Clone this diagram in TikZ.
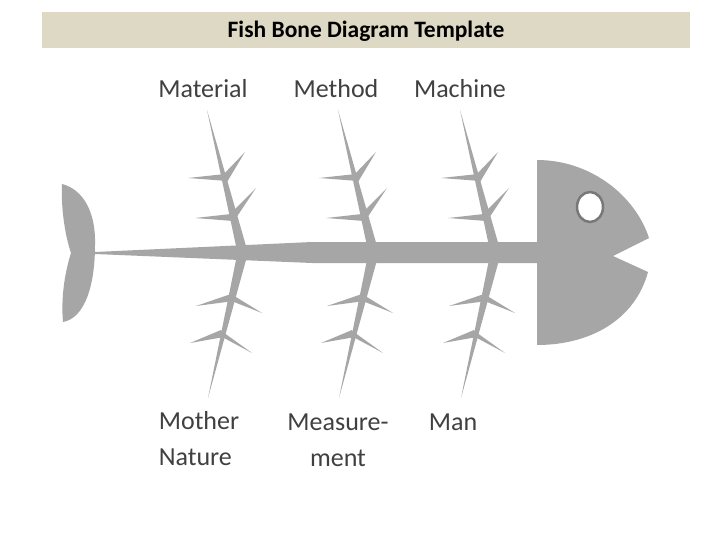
\documentclass[tikz,border=0pt]{standalone}
\usepackage{fontspec}
\setmainfont{Carlito}
\definecolor{fishgray}{RGB}{166,166,166}
\definecolor{titlebg}{RGB}{221,217,196}
\definecolor{labelc}{RGB}{64,64,64}
\definecolor{eyering}{RGB}{120,120,120}
\tikzset{
  bonefill/.style={fill=fishgray,draw=none},
  lbl/.style={font=\fontsize{26}{36}\selectfont,text=labelc,align=center,inner sep=0pt},
}
\newcommand{\fishrib}[1]{%
\begin{scope}[xshift=#1]
  \fill[bonefill] (207,110) -- (236,246) -- (246,246) -- cycle;
  \fill[bonefill] (208,398) -- (236,260) -- (246,260) -- cycle;
  \fill[bonefill] (188,178) -- (225,174) -- (227,181) -- cycle;
  \fill[bonefill] (245,152) -- (222,176) -- (227,182) -- cycle;
  \fill[bonefill] (195,218) -- (231,214) -- (233,221) -- cycle;
  \fill[bonefill] (256,188) -- (229,215) -- (234,221) -- cycle;
  \fill[bonefill] (196,306) -- (231,294) -- (234,301) -- cycle;
  \fill[bonefill] (262,313) -- (231,294) -- (234,302) -- cycle;
  \fill[bonefill] (190,343) -- (221,330) -- (224,337) -- cycle;
  \fill[bonefill] (252,353) -- (220,330) -- (224,338) -- cycle;
\end{scope}}
\begin{document}
\begin{tikzpicture}[x=1pt,y=-1pt]
\useasboundingbox (0,0) rectangle (720,540);
\fill[white] (0,0) rectangle (720,540);
\node[fill=titlebg,minimum width=648pt,minimum height=36pt,inner sep=0pt,anchor=north west] (title) at (42,12) {};
\node[font=\fontsize{23.5}{26}\selectfont\bfseries] (titletext) at (366,31) {Fish Bone Diagram Template};
% tail
\fill[bonefill] (62,184) .. controls (85,190) and (96,215) .. (95,245)
  .. controls (95,285) and (85,318) .. (63,322)
  .. controls (61,300) and (64,275) .. (71,253)
  .. controls (64,232) and (61,205) .. cycle;
% spine
\fill[bonefill] (95,252) -- (95,254) -- (312,263) -- (540,263) -- (540,242) -- (312,242) -- cycle;
\fishrib{0pt}
\fishrib{131pt}
\fishrib{253pt}
% head
\fill[bonefill] (537,160) .. controls (590,160) and (635,195) .. (649,238)
  -- (613,256) -- (648,272)
  .. controls (635,320) and (590,345) .. (537,345) -- cycle;
\draw[eyering,line width=2.5pt,fill=white] (590,207) ellipse[x radius=13,y radius=15];
% labels
\node[lbl] (material) at (203,89) {Material};
\node[lbl] (method) at (336,89) {Method};
\node[lbl] (machine) at (460,89) {Machine};
\node[lbl,align=left] (mother) at (199,439) {Mother\\Nature};
\node[lbl] (measure) at (338,440) {Measure-\\ment};
\node[lbl] (man) at (453,422) {Man};
\end{tikzpicture}
\end{document}
